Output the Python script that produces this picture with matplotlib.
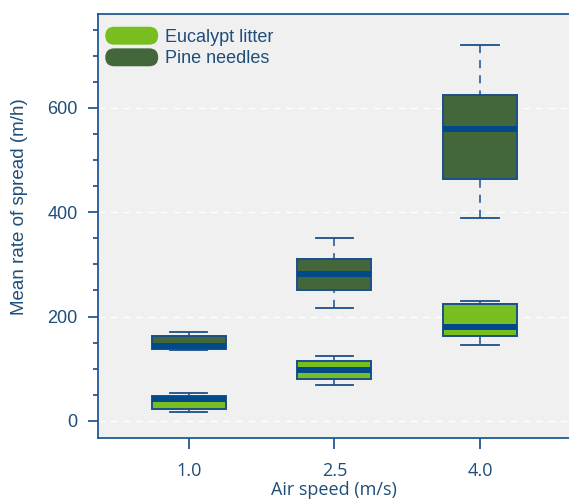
import matplotlib
matplotlib.use('Agg')
import matplotlib.pyplot as plt
import matplotlib.patches as mpatches
from matplotlib.patches import FancyBboxPatch
from matplotlib.legend_handler import HandlerPatch
from matplotlib.ticker import MultipleLocator

# ---- data ----
speeds = ['1.0', '2.5', '4.0']
series = ['Eucalypt litter', 'Pine needles']
euc_min = [17, 68, 145]
euc_q1 = [22, 80, 163]
euc_med = [41, 98, 179]
euc_q3 = [48, 114, 224]
euc_max = [53, 124, 230]
pine_min = [136, 216, 388]
pine_q1 = [138, 251, 463]
pine_med = [143, 281, 559]
pine_q3 = [162, 310, 624]
pine_max = [170, 350, 720]

c_euc = '#78BE20'
c_pine = '#43673A'
c_edge = '#1B4F8A'
c_med = '#004A8C'
c_axis = '#1F5A96'
c_text = '#1F4E79'

plt.rcParams['font.family'] = ['Liberation Sans', 'DejaVu Sans']

fig = plt.figure(figsize=(5.69, 5.01), dpi=100)
ax = fig.add_axes([0.1717, 0.1257, 0.8318, 0.8463])
ax.set_facecolor('#F0F0F0')

def stats(mn, q1, med, q3, mx):
    return [dict(whislo=a, q1=b, med=c, q3=d, whishi=e, fliers=[])
            for a, b, c, d, e in zip(mn, q1, med, q3, mx)]

pos = list(range(len(speeds)))
for st, col in [(stats(euc_min, euc_q1, euc_med, euc_q3, euc_max), c_euc),
                (stats(pine_min, pine_q1, pine_med, pine_q3, pine_max), c_pine)]:
    bp = ax.bxp(st, positions=pos, widths=0.51, patch_artist=True, showfliers=False,
                boxprops=dict(facecolor=col, edgecolor=c_edge, linewidth=1.4),
                medianprops=dict(color=c_med, linewidth=4.3, solid_capstyle='butt'),
                whiskerprops=dict(color=c_edge, linewidth=1.1, linestyle=(0, (5.3, 4.6))),
                capprops=dict(color=c_edge, linewidth=1.3), zorder=3)
    for w in bp['whiskers']:
        w.set_ydata(w.get_ydata()[::-1])

ax.set_xlim(-0.625, 2.625)
ax.set_ylim(-33, 780)
ax.set_xticks(pos)
ax.set_xticklabels(speeds, family=['Open Sans', 'DejaVu Sans'])
ax.yaxis.set_major_locator(MultipleLocator(200))
ax.yaxis.set_minor_locator(MultipleLocator(50))
ax.grid(axis='y', which='major', color='white', linestyle=(0, (5, 4)), linewidth=1.0, zorder=0)
ax.set_axisbelow(True)

for s in ['top', 'left', 'bottom']:
    ax.spines[s].set_color(c_axis)
    ax.spines[s].set_linewidth(1.3)
ax.spines['right'].set_visible(False)

ax.tick_params(axis='y', which='major', length=7.5, width=1.3, color=c_axis,
               labelcolor=c_text, labelsize=13, pad=7)
ax.tick_params(axis='y', which='minor', length=3.8, width=1.3, color=c_axis)
ax.tick_params(axis='x', which='major', length=8, width=1.3, color=c_axis,
               labelcolor=c_text, labelsize=13, pad=9)

ax.set_ylabel('Mean rate of spread (m/h)', color=c_text, fontsize=13.5)
ax.yaxis.set_label_coords(-0.148, 0.545)
ax.set_xlabel('Air speed (m/s)', color=c_text, fontsize=13, labelpad=1,
              family=['Open Sans', 'DejaVu Sans'])


class HandlerPill(HandlerPatch):
    def create_artists(self, legend, orig_handle, xdescent, ydescent, width, height,
                       fontsize, trans):
        p = FancyBboxPatch((-xdescent, -ydescent), width, height,
                           boxstyle=f"round,pad=0,rounding_size={height/2}",
                           facecolor=orig_handle.get_facecolor(), edgecolor='none',
                           transform=trans)
        return [p]


handles = [mpatches.Patch(facecolor=c_euc), mpatches.Patch(facecolor=c_pine)]
leg = ax.legend(handles, series, loc='upper left', bbox_to_anchor=(0.016, 0.97),
                frameon=False, fontsize=13, handlelength=2.93, handleheight=1.15,
                handletextpad=0.4, labelspacing=0.14, borderpad=0, borderaxespad=0,
                handler_map={mpatches.Patch: HandlerPill()})
for t in leg.get_texts():
    t.set_color(c_text)

fig.savefig('out.png', dpi=100)
